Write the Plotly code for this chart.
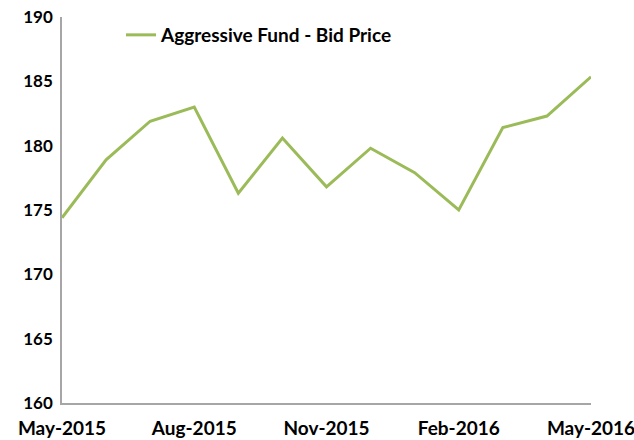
import plotly.graph_objects as go

months = ["May-2015", "Jun-2015", "Jul-2015", "Aug-2015", "Sep-2015", "Oct-2015",
          "Nov-2015", "Dec-2015", "Jan-2016", "Feb-2016", "Mar-2016", "Apr-2016", "May-2016"]
bid_price = [174.4, 178.9, 181.9, 183.0, 176.3, 180.6, 176.8, 179.8, 177.9, 175.0, 181.4, 182.3, 185.35]
series_name = "Aggressive Fund - Bid Price"
x_tick_labels = ["May-2015", "Aug-2015", "Nov-2015", "Feb-2016", "May-2016"]
y_ticks = [160, 165, 170, 175, 180, 185, 190]

W, H = 634, 440
ml, mr, mt, mb = 62, 43, 17, 37

fig = go.Figure()
fig.add_trace(go.Scatter(
    x=list(range(len(months))), y=bid_price, mode="lines", name=series_name,
    line=dict(color="#9bbb59", width=3), showlegend=True,
))

fig.update_layout(
    width=W, height=H,
    margin=dict(l=ml, r=mr, t=mt, b=mb, pad=0, autoexpand=False),
    paper_bgcolor="white", plot_bgcolor="white",
    font=dict(family="Lato", size=19, color="black", weight="bold"),
    showlegend=True,
    legend=dict(
        x=(121 - ml) / (W - ml - mr), y=1 - (35 - mt) / (H - mt - mb),
        xanchor="left", yanchor="middle", bgcolor="rgba(0,0,0,0)",
        font=dict(family="Lato", size=19, color="black", weight="bold"),
        borderwidth=0,
    ),
    xaxis=dict(
        range=[0, len(months) - 1],
        tickmode="array",
        tickvals=[months.index(m) for m in x_tick_labels],
        ticktext=x_tick_labels,
        showgrid=False, zeroline=False,
        showline=True, linecolor="#a6a6a6", linewidth=1.5,
        ticks="", ticklabelstandoff=7, automargin=False,
        ticklabeloverflow="allow",
        tickfont=dict(family="Lato", size=19, color="black", weight="bold"),
    ),
    yaxis=dict(
        range=[160, 190],
        tickmode="array", tickvals=y_ticks, ticktext=[str(v) for v in y_ticks],
        showgrid=False, zeroline=False,
        showline=True, linecolor="#a6a6a6", linewidth=1.5,
        ticks="", ticklabelstandoff=4, automargin=False,
        ticklabeloverflow="allow",
        tickfont=dict(family="Lato", size=17, color="black", weight="bold"),
    ),
)

fig.write_html(
    "out.html",
    config={"displayModeBar": False},
    post_script="document.body.style.margin='0';document.body.style.overflow='hidden';",
)
